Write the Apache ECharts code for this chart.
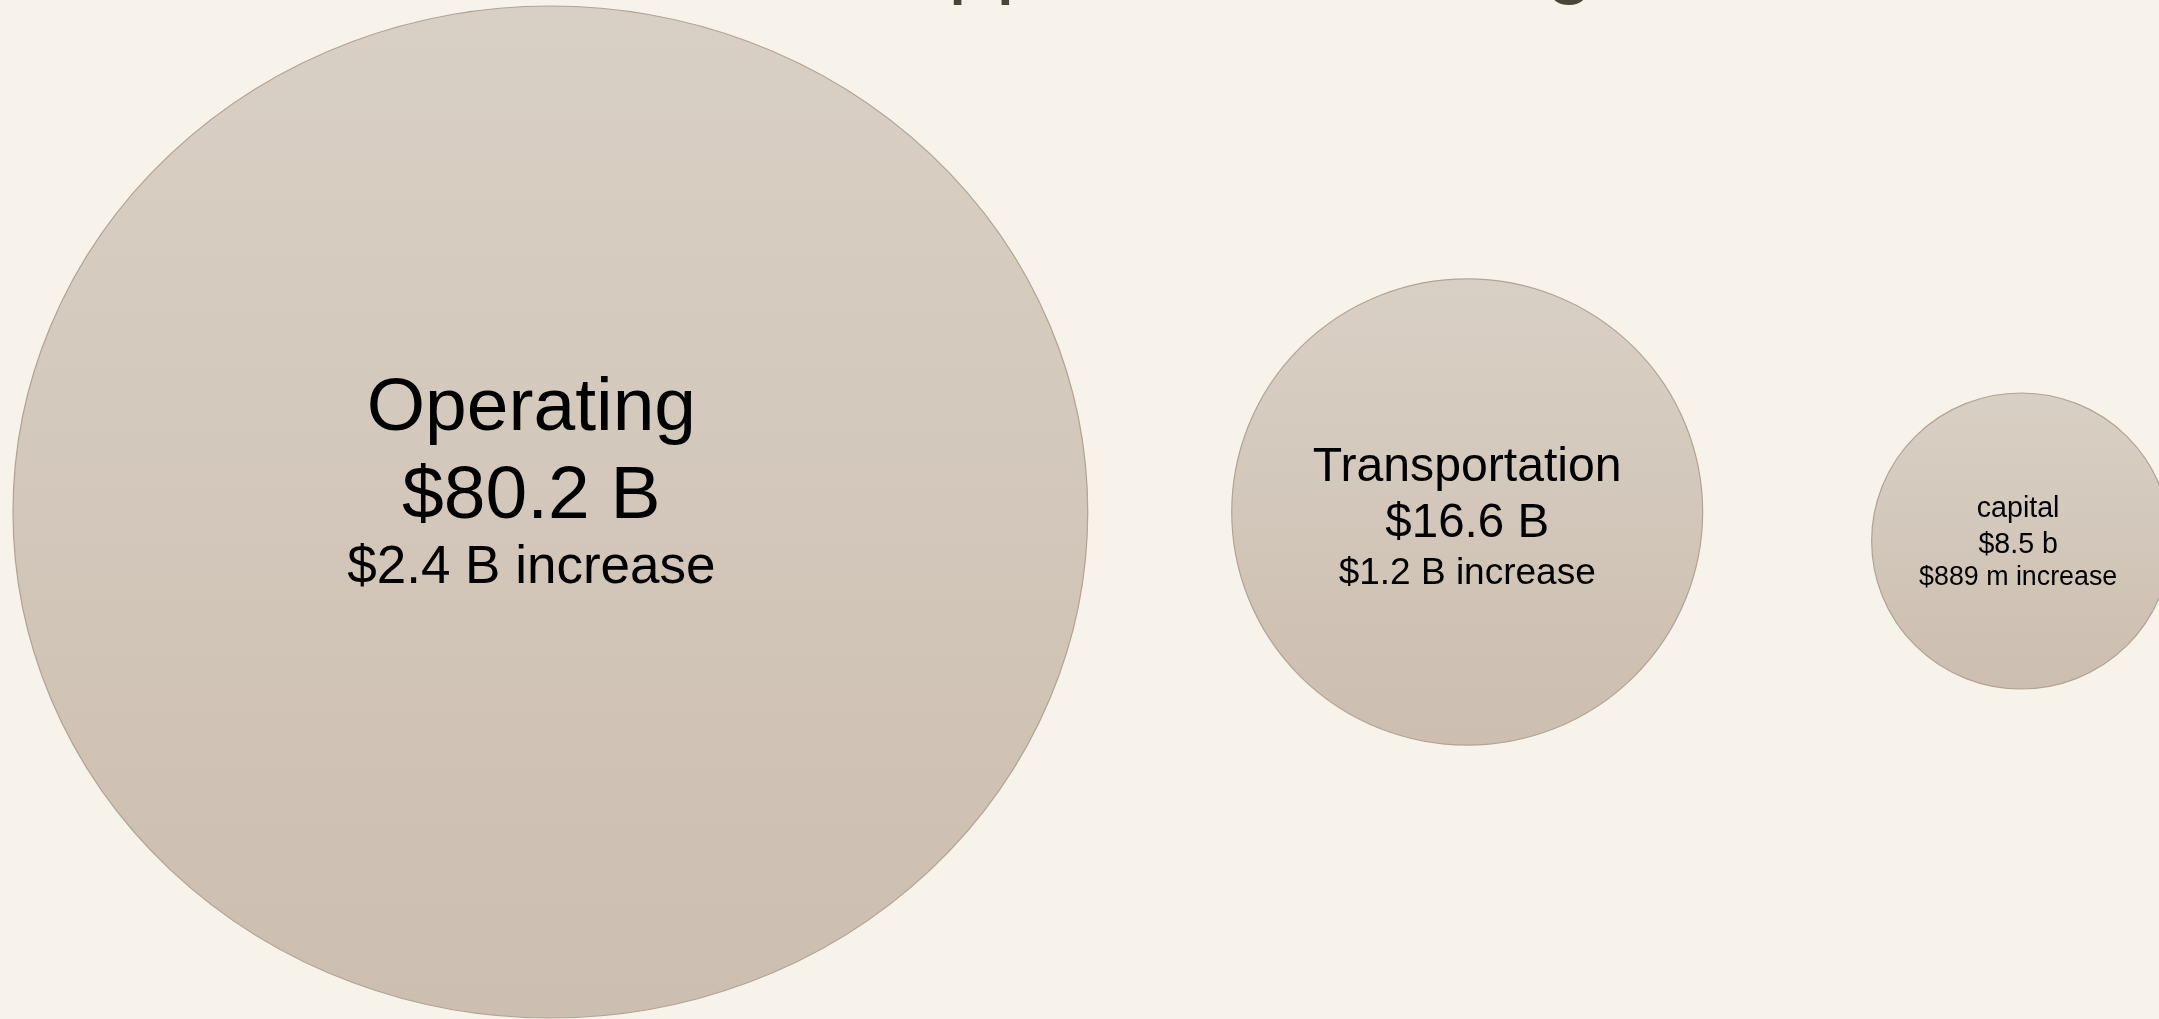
<!DOCTYPE html>
<html>
<head>
<meta charset="utf-8">
<script src="https://cdn.jsdelivr.net/npm/echarts@6/dist/echarts.min.js"></script>
<style>
html,body{margin:0;padding:0;background:#f7f3eb;}
#chart{width:2159px;height:1019px;}
</style>
</head>
<body>
<div id="chart"></div>
<script>
// ---- data ----
const titleText = 'FY 2026 Supplemental Budget';
const categories = ['Operating', 'Transportation', 'capital'];
const budgetValues = [80.2, 16.6, 8.5];
const valueLabels = ['$80.2 B', '$16.6 B', '$8.5 b'];
const increaseLabels = ['$2.4 B increase', '$1.2 B increase', '$889 m increase'];

// ---- styles / layout (kept separate from the data) ----
const FONT = '"Liberation Sans", Arial, sans-serif';
const labelStyles = [
  { fs: [75, 75, 53], lh: [88, 88, 54], dx: -19 },
  { fs: [48.2, 47.5, 37], lh: [56, 56, 44], dx: 0 },
  { fs: [28.6, 28.6, 26.8], lh: [36, 36, 28], dx: -3 }
];
const SIZE_RANGE = [296, 1012];
const SIZE_EXP = 0.27;
const LEFT_MARGIN = 13;
const bubbleGaps = [144, 169];
const bubbleNudgeY = [0, 0, 29];
const BASELINE_ANCHOR = 586;
const BASE_K = 0.33;

const vMin = Math.min(...budgetValues), vMax = Math.max(...budgetValues);
function sizeScale(v) {
  const t = (Math.pow(v, SIZE_EXP) - Math.pow(vMin, SIZE_EXP)) / (Math.pow(vMax, SIZE_EXP) - Math.pow(vMin, SIZE_EXP));
  return SIZE_RANGE[0] + t * (SIZE_RANGE[1] - SIZE_RANGE[0]);
}
function symbolDims(v) {
  const d = sizeScale(v);
  const aspect = d > 800 ? 1.062 : 1.01;
  return [d * aspect, d];
}
// pack bubbles left to right
const xs = [];
let cursor = LEFT_MARGIN;
budgetValues.forEach((v, i) => {
  const w = symbolDims(v)[0];
  xs.push(cursor + w / 2);
  cursor += w + (bubbleGaps[i] || 0);
});

const chart = echarts.init(document.getElementById('chart'));

function buildData(centerYs) {
  return budgetValues.map((v, i) => {
    const s = labelStyles[i];
    const H = s.lh[0] + s.lh[1] + s.lh[2];
    const top = BASELINE_ANCHOR - (s.lh[0] + s.lh[1] + s.lh[2] / 2 + BASE_K * s.fs[2]);
    const oy = top + H / 2 - centerYs[i];
    return {
      value: [xs[i], bubbleNudgeY[i], v],
      name: categories[i],
      label: {
        offset: [s.dx, oy],
        formatter: '{n|' + categories[i] + '}\n{v|' + valueLabels[i] + '}\n{i|' + increaseLabels[i] + '}',
        rich: {
          n: { fontSize: s.fs[0], lineHeight: s.lh[0], fontFamily: FONT, color: '#000', align: 'center' },
          v: { fontSize: s.fs[1], lineHeight: s.lh[1], fontFamily: FONT, color: '#000', align: 'center' },
          i: { fontSize: s.fs[2], lineHeight: s.lh[2], fontFamily: FONT, color: '#000', align: 'center' }
        }
      }
    };
  });
}

const option = {
  backgroundColor: '#f7f3eb',
  animation: false,
  title: {
    text: titleText,
    left: 'center',
    top: -85,
    textStyle: { fontSize: 86, fontWeight: 'normal', fontFamily: FONT, color: '#4a4536' }
  },
  grid: { left: 0, right: 0, top: 5, bottom: 0 },
  xAxis: { type: 'value', min: 0, max: 2159, show: false },
  yAxis: { type: 'value', min: -507, max: 507, inverse: true, show: false },
  series: [{
    type: 'scatter',
    clip: false,
    symbol: 'circle',
    symbolSize: function (val) { return symbolDims(val[2]); },
    itemStyle: {
      color: new echarts.graphic.LinearGradient(0, 0, 0, 1, [
        { offset: 0, color: '#d9d0c5' },
        { offset: 1, color: '#ccbeb0' }
      ]),
      borderColor: '#b3a391',
      borderWidth: 1.2,
      opacity: 1
    },
    label: { show: true, position: 'inside' },
    emphasis: { disabled: true },
    data: buildData(budgetValues.map(() => 512))
  }]
};
chart.setOption(option);
const cys = budgetValues.map((v, i) => chart.convertToPixel({ gridIndex: 0 }, [xs[i], bubbleNudgeY[i]])[1]);
chart.setOption({ series: [{ data: buildData(cys) }] });
</script>
</body>
</html>
